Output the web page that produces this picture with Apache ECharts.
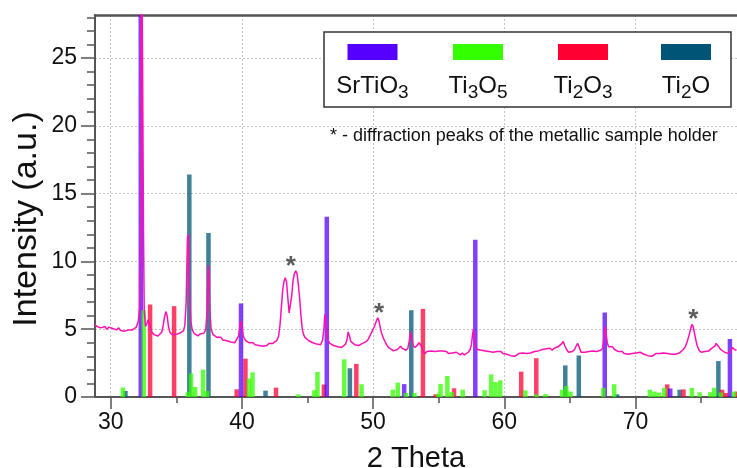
<!DOCTYPE html>
<html><head><meta charset="utf-8">
<script src="https://cdn.jsdelivr.net/npm/echarts@6/dist/echarts.min.js"></script>
<style>html,body{margin:0;padding:0;background:#fff}#c{width:737px;height:468px}</style>
</head><body><div id="c"></div>
<script>
// ---- data ----
const xTickLabels = [30, 40, 50, 60, 70];
const xMinorTicks = [35, 45, 55, 65, 75];
const yTickLabels = [0, 5, 10, 15, 20, 25];

// [2theta, relative intensity]
const srtio3 = [[32.29,100],[39.93,6.9],[46.47,13.3],[52.37,0.95],[57.79,11.6],[67.66,6.23],[72.65,0.63],[77.2,4.28]];
const ti3o5 = [[30.92,0.7],[32.52,6.4],[35.87,0.35],[36.12,1.73],[36.43,0.74],[37.04,2.02],[37.34,0.44],[40.54,1.36],[40.81,1.82],[44.31,0.2],[45.52,0.5],[45.76,1.85],[47.8,2.78],[49.12,0.94],[51.5,0.54],[51.88,1.06],[52.5,0.3],[53.15,0.3],[54.95,0.25],[55.14,0.97],[55.66,1.55],[55.99,0.37],[56.83,0.54],[58.5,0.5],[59.0,1.67],[59.33,1.1],[59.69,1.23],[61.6,0.49],[62.44,0.2],[63.14,0.22],[64.41,0.54],[64.73,0.8],[65.05,0.4],[67.55,0.68],[68.38,0.94],[71.1,0.54],[71.45,0.4],[71.8,0.33],[72.2,0.68],[74.3,0.67],[74.89,0.35],[75.7,0.35],[76.0,0.68],[76.5,0.33],[77.5,0.4]];
const ti2o3 = [[33.0,6.82],[34.83,6.7],[39.6,0.57],[40.27,2.83],[42.6,0.69],[46.25,0.92],[48.72,2.44],[53.8,6.5],[54.77,0.2],[56.17,0.64],[61.29,1.87],[62.44,2.86],[72.42,0.93],[73.66,0.56],[76.6,0.54],[76.9,0.3],[77.72,0.4]];
const ti2o = [[31.12,0.45],[35.99,16.4],[37.45,12.1],[41.8,0.47],[48.23,2.12],[52.91,6.4],[64.65,2.33],[65.68,3.06],[68.6,0.2],[73.37,0.54],[76.32,2.65]];

// measured pattern
const pattern = [[28.80,5.35],[28.95,5.2],[29.10,5.3],[29.25,5.1],[29.40,5.05],[29.55,5.2],[29.70,5.0],[29.85,5.15],[30.00,5.25],[30.15,5.05],[30.30,5.1],[30.45,4.95],[30.60,5.1],[30.75,4.9],[30.90,5.0],[31.05,4.85],[31.20,4.75],[31.35,4.95],[31.50,4.85],[31.65,4.95],[31.80,5.05],[31.95,5.15],[32.10,5.6],[32.20,6.5],[32.28,12.5],[32.33,40],[32.45,40],[32.50,12],[32.55,6.4],[32.65,5.2],[32.75,5.4],[32.85,5.7],[32.95,5.6],[33.05,5.0],[33.15,4.75],[33.30,4.6],[33.45,4.7],[33.60,4.5],[33.75,4.6],[33.90,4.8],[34.00,5.3],[34.10,5.9],[34.20,6.3],[34.30,6.0],[34.40,5.2],[34.50,4.8],[34.65,4.6],[34.80,4.5],[34.95,4.6],[35.10,4.5],[35.25,4.7],[35.40,4.8],[35.55,4.9],[35.65,5.3],[35.75,7.0],[35.85,11.8],[35.92,12.0],[36.00,8.0],[36.10,5.6],[36.20,5.0],[36.35,4.7],[36.50,4.6],[36.65,4.5],[36.80,4.65],[36.95,4.6],[37.10,4.7],[37.25,5.0],[37.35,6.5],[37.42,9.7],[37.48,9.3],[37.55,6.5],[37.65,5.0],[37.80,4.6],[37.95,4.5],[38.10,4.4],[38.25,4.3],[38.40,4.4],[38.55,4.2],[38.70,4.25],[38.85,4.15],[39.00,4.2],[39.15,4.05],[39.30,4.15],[39.45,4.0],[39.60,4.1],[39.75,4.5],[39.85,5.3],[39.92,5.6],[40.00,5.2],[40.10,4.5],[40.25,4.2],[40.40,4.1],[40.55,4.0],[40.70,3.9],[40.85,4.0],[41.00,3.85],[41.15,3.95],[41.30,3.8],[41.45,3.9],[41.60,3.75],[41.75,3.85],[41.90,3.8],[42.05,3.95],[42.20,3.85],[42.35,3.95],[42.50,4.0],[42.65,4.15],[42.80,4.5],[42.90,5.3],[43.00,6.5],[43.10,7.8],[43.20,8.5],[43.30,8.8],[43.40,8.5],[43.50,7.3],[43.60,6.2],[43.70,6.3],[43.80,7.5],[43.90,8.6],[44.00,9.1],[44.10,9.3],[44.20,9.1],[44.30,8.3],[44.40,7.3],[44.50,6.0],[44.60,5.0],[44.70,4.6],[44.80,4.4],[44.95,4.3],[45.10,4.15],[45.25,4.2],[45.40,4.0],[45.55,4.1],[45.70,3.9],[45.85,3.95],[46.00,3.85],[46.15,4.2],[46.25,5.0],[46.32,6.1],[46.38,5.8],[46.45,4.8],[46.55,4.2],[46.70,3.95],[46.85,3.9],[47.00,3.8],[47.15,3.85],[47.30,3.7],[47.45,3.8],[47.60,3.65],[47.75,3.75],[47.90,3.9],[48.00,4.2],[48.10,4.8],[48.20,4.5],[48.30,4.1],[48.45,4.0],[48.60,3.85],[48.75,3.9],[48.90,3.8],[49.05,3.85],[49.20,3.95],[49.35,4.0],[49.50,4.1],[49.65,4.3],[49.80,4.6],[49.95,4.9],[50.10,5.2],[50.25,5.6],[50.35,5.85],[50.45,5.6],[50.55,5.1],[50.65,4.7],[50.80,4.3],[50.95,4.0],[51.10,3.75],[51.25,3.6],[51.40,3.55],[51.55,3.4],[51.70,3.35],[51.85,3.5],[52.00,3.6],[52.10,3.75],[52.20,3.6],[52.35,3.55],[52.50,3.45],[52.65,3.6],[52.75,4.1],[52.85,4.8],[52.95,4.3],[53.05,3.8],[53.20,3.65],[53.35,3.8],[53.50,4.0],[53.60,4.05],[53.70,3.7],[53.80,3.35],[53.95,3.2],[54.10,3.35],[54.25,3.3],[54.40,3.4],[54.55,3.3],[54.70,3.35],[54.85,3.25],[55.00,3.4],[55.15,3.3],[55.30,3.4],[55.45,3.3],[55.60,3.35],[55.75,3.2],[55.90,3.3],[56.05,3.25],[56.20,3.15],[56.35,3.3],[56.50,3.2],[56.65,3.1],[56.80,3.25],[56.95,3.1],[57.10,3.15],[57.25,3.3],[57.40,3.5],[57.50,3.9],[57.58,4.6],[57.65,5.0],[57.72,4.3],[57.80,3.7],[57.95,3.5],[58.10,3.6],[58.25,3.45],[58.40,3.55],[58.55,3.4],[58.70,3.5],[58.85,3.35],[59.00,3.45],[59.15,3.3],[59.30,3.4],[59.45,3.35],[59.60,3.25],[59.75,3.35],[59.90,3.2],[60.05,3.25],[60.20,3.15],[60.35,3.2],[60.50,3.05],[60.65,3.15],[60.80,3.0],[60.95,3.1],[61.10,3.2],[61.25,3.1],[61.40,3.25],[61.55,3.15],[61.70,3.2],[61.85,3.1],[62.00,3.25],[62.15,3.2],[62.30,3.35],[62.45,3.25],[62.60,3.4],[62.75,3.35],[62.90,3.5],[63.05,3.4],[63.20,3.55],[63.35,3.5],[63.50,3.6],[63.65,3.45],[63.80,3.6],[63.95,3.55],[64.10,3.7],[64.25,3.75],[64.40,3.95],[64.50,4.1],[64.60,3.8],[64.75,3.5],[64.90,3.3],[65.05,3.4],[65.20,3.35],[65.35,3.5],[65.50,3.8],[65.60,3.95],[65.70,3.7],[65.85,3.3],[66.00,3.2],[66.15,3.3],[66.30,3.25],[66.45,3.35],[66.60,3.3],[66.75,3.4],[66.90,3.3],[67.05,3.35],[67.20,3.3],[67.35,3.45],[67.50,3.6],[67.60,4.4],[67.68,5.2],[67.75,4.8],[67.85,4.0],[67.95,3.7],[68.10,3.6],[68.25,3.7],[68.40,3.5],[68.55,3.4],[68.70,3.35],[68.85,3.25],[69.00,3.35],[69.15,3.2],[69.30,3.3],[69.45,3.15],[69.60,3.25],[69.75,3.2],[69.90,3.3],[70.05,3.25],[70.20,3.35],[70.35,3.3],[70.50,3.25],[70.65,3.15],[70.80,3.2],[70.95,3.05],[71.10,3.15],[71.25,3.0],[71.40,3.1],[71.55,3.2],[71.70,3.1],[71.85,3.2],[72.00,3.15],[72.15,3.25],[72.30,3.15],[72.45,3.2],[72.60,3.1],[72.75,3.15],[72.90,3.05],[73.05,3.15],[73.20,3.1],[73.35,3.25],[73.50,3.35],[73.65,3.5],[73.80,3.7],[73.95,4.1],[74.10,4.6],[74.20,5.0],[74.30,5.35],[74.40,5.2],[74.50,4.7],[74.60,4.2],[74.70,3.8],[74.85,3.45],[75.00,3.3],[75.15,3.4],[75.30,3.35],[75.45,3.45],[75.60,3.4],[75.75,3.55],[75.90,3.6],[76.05,3.75],[76.15,3.95],[76.25,4.0],[76.35,3.7],[76.50,3.5],[76.65,3.45],[76.80,3.3],[76.95,3.25],[77.10,3.2],[77.25,3.4],[77.40,3.65],[77.55,3.5],[77.70,3.45]];

// sample-holder peaks marked with *
const holderPeaks = [[43.72,10.2],[50.45,6.7],[74.4,6.27]];

// ---- chart ----
const FONT = '"Liberation Sans", Arial, sans-serif';
const X_MIN = 28.8, X_MAX = 77.74, Y_MIN = 0, Y_MAX = 28.17;
const AXIS_COLOR = '#555';
const BAR_W = 4.5;
const COLORS = {SrTiO3:'#5500ff', Ti3O5:'#33ff00', Ti2O3:'#ff0033', Ti2O:'#005577'};

function stickSeries(name, data, color, z) {
  return {
    name, type: 'custom', data, z, clip: true,
    renderItem(params, api) {
      const x = api.value(0), h = api.value(1);
      const b = api.coord([x, 0]), t = api.coord([x, h]);
      const cs = params.coordSys;
      const shape = echarts.graphic.clipRectByRect(
        {x: b[0] - BAR_W / 2, y: t[1], width: BAR_W, height: b[1] - t[1]},
        {x: cs.x, y: cs.y, width: cs.width, height: cs.height});
      if (!shape) return;
      return {type: 'rect', shape, style: {fill: color, opacity: 0.75}};
    }
  };
}

const chart = echarts.init(document.getElementById('c'), null, {renderer: 'canvas'});
const splitStyle = {color: '#c4c4c4', type: [2, 2], width: 1};

const legendItems = [
  {cx: 372.5, color: COLORS.SrTiO3, text: '{m|SrTiO}{s|3}'},
  {cx: 478, color: COLORS.Ti3O5, text: '{m|Ti}{s|3}{m|O}{s|5}'},
  {cx: 583, color: COLORS.Ti2O3, text: '{m|Ti}{s|2}{m|O}{s|3}'},
  {cx: 686, color: COLORS.Ti2O, text: '{m|Ti}{s|2}{m|O}'}
];
const graphics = [{type: 'rect', shape: {x: 324, y: 32, width: 407, height: 75},
  style: {fill: '#fff', stroke: '#333', lineWidth: 1.5}, z: 100}];
legendItems.forEach(it => {
  graphics.push({type: 'rect', shape: {x: it.cx - 25, y: 44, width: 50, height: 16},
    style: {fill: it.color}, z: 101});
  graphics.push({type: 'text', z: 101, style: {
    x: it.cx, y: 70, text: it.text, align: 'center', verticalAlign: 'top',
    rich: {
      m: {fontSize: 24, lineHeight: 32, fontFamily: FONT, fill: '#111', verticalAlign: 'middle'},
      s: {fontSize: 19, lineHeight: 16, fontFamily: FONT, fill: '#111', verticalAlign: 'bottom'}
    }}});
});
graphics.push({type: 'text', z: 101, style: {x: 330, y: 136, text: '* - diffraction peaks of the metallic sample holder',
  fontSize: 18, fontFamily: FONT, fill: '#111', verticalAlign: 'middle'}});
// y-axis title
graphics.push({type: 'text', z: 101, x: 27, y: 219, rotation: Math.PI / 2,
  style: {x: 0, y: 0, text: 'Intensity (a.u.)', fontSize: 34, fontFamily: FONT, fill: '#111',
    align: 'center', verticalAlign: 'middle'}});

chart.setOption({
  animation: false,
  backgroundColor: '#fff',
  grid: {left: 95, right: 0, top: 15, bottom: 71, containLabel: false, outerBoundsMode: 'none'},
  xAxis: [
    {type: 'value', min: X_MIN, max: X_MAX, position: 'bottom',
     axisLine: {show: true, onZero: false, lineStyle: {color: AXIS_COLOR, width: 2}},
     axisTick: {show: true, customValues: xTickLabels, length: 12, lineStyle: {color: AXIS_COLOR, width: 1.5}},
     axisLabel: {customValues: xTickLabels, fontSize: 23, color: '#111', margin: 14, fontFamily: FONT},
     splitLine: {show: true, lineStyle: splitStyle},
     name: '2 Theta', nameLocation: 'middle', nameGap: 47,
     nameTextStyle: {fontSize: 29, color: '#111', fontFamily: FONT}},
    {type: 'value', min: X_MIN, max: X_MAX, position: 'bottom',
     axisLine: {show: false, onZero: false},
     axisTick: {show: true, customValues: xMinorTicks, length: 6, lineStyle: {color: AXIS_COLOR, width: 1.5}},
     axisLabel: {show: false}, splitLine: {show: false}},
    {type: 'value', min: X_MIN, max: X_MAX, position: 'top',
     axisLine: {show: true, onZero: false, lineStyle: {color: AXIS_COLOR, width: 2.5}},
     axisTick: {show: false}, axisLabel: {show: false}, splitLine: {show: false}}
  ],
  yAxis: {type: 'value', min: Y_MIN, max: Y_MAX, interval: 5,
    axisLine: {show: true, lineStyle: {color: AXIS_COLOR, width: 2}},
    axisTick: {show: true, customValues: yTickLabels, length: 14, lineStyle: {color: AXIS_COLOR, width: 1.5}},
    minorTick: {show: true, splitNumber: 5, length: 8, lineStyle: {color: AXIS_COLOR, width: 1.5}},
    axisLabel: {customValues: yTickLabels, fontSize: 23, color: '#111', margin: 18, fontFamily: FONT},
    splitLine: {show: true, lineStyle: splitStyle}},
  series: [
    stickSeries('Ti2O', ti2o, COLORS.Ti2O, 2),
    stickSeries('Ti2O3', ti2o3, COLORS.Ti2O3, 3),
    stickSeries('SrTiO3', srtio3, COLORS.SrTiO3, 4),
    stickSeries('Ti3O5', ti3o5, COLORS.Ti3O5, 5),
    {type: 'line', data: pattern, showSymbol: false, symbol: 'none', z: 6, clip: true,
     lineStyle: {color: '#ff10b0', width: 1.5}},
    {type: 'scatter', data: holderPeaks, z: 7, symbol: 'circle', symbolSize: 1,
     itemStyle: {color: 'rgba(0,0,0,0)'},
     label: {show: true, position: 'inside', formatter: '*', fontSize: 26, fontWeight: 'bold',
       color: '#333', fontFamily: FONT, offset: [0, 8]}}
  ],
  graphic: graphics
});
</script></body></html>
